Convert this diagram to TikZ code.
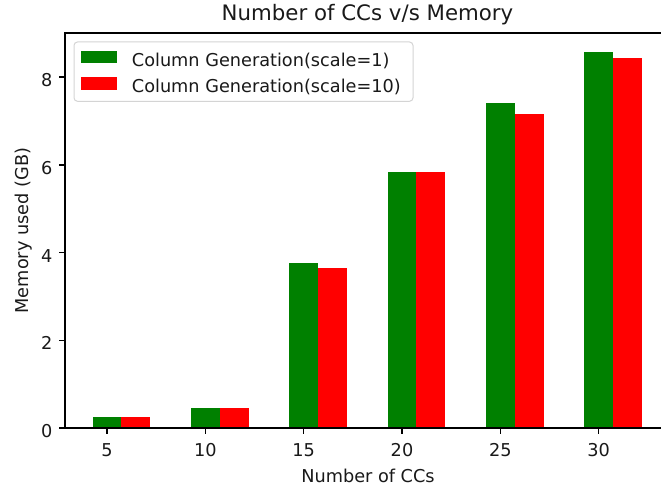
\documentclass[tikz,border=0pt]{standalone}
\usepackage{fontspec}
\setmainfont{DejaVu Sans}
\usepackage{xcolor}
\usetikzlibrary{positioning}

\definecolor{mplgreen}{HTML}{008000}
\definecolor{mplred}{HTML}{FF0000}

\begin{document}
\begin{tikzpicture}[
  x=1pt, y=1pt,
  font=\fontsize{17.7}{20}\selectfont,
  spine/.style={line width=1.4pt, black},
  tck/.style={line width=1.4pt, black},
  tlbl/.style={inner sep=0pt, text=black!90},
  gbar/.style={fill=mplgreen},
  rbar/.style={fill=mplred},
  legbox/.style={draw=black!17, line width=1pt, fill=white, rounded corners=3.5pt},
  ttl/.style={inner sep=0pt, text=black!90, font=\fontsize{21.3}{24}\selectfont}
]
\useasboundingbox (0,0) rectangle (661,489);
% bars, in data units (GB)
\begin{scope}[shift={(8.68,61)}, x=19.664pt, y=43.85pt]
  \fill[gbar] (4.265,0)  rectangle (5.735,0.26);
  \fill[rbar] (5.735,0)  rectangle (7.205,0.26);
  \fill[gbar] (9.265,0)  rectangle (10.735,0.455);
  \fill[rbar] (10.735,0) rectangle (12.205,0.455);
  \fill[gbar] (14.265,0) rectangle (15.735,3.77);
  \fill[rbar] (15.735,0) rectangle (17.205,3.64);
  \fill[gbar] (19.265,0) rectangle (20.735,5.84);
  \fill[rbar] (20.735,0) rectangle (22.205,5.84);
  \fill[gbar] (24.265,0) rectangle (25.735,7.41);
  \fill[rbar] (25.735,0) rectangle (27.205,7.17);
  \fill[gbar] (29.265,0) rectangle (30.735,8.565);
  \fill[rbar] (30.735,0) rectangle (32.205,8.44);
\end{scope}
% axes
\draw[spine] (661,455.8) -- (65.07,455.8) -- (65.07,61) -- (661,61);
\draw[tck] (107.0,61) -- ++(0,-6.2);
\draw[tck] (205.3,61) -- ++(0,-6.2);
\draw[tck] (303.6,61) -- ++(0,-6.2);
\draw[tck] (402.0,61) -- ++(0,-6.2);
\draw[tck] (500.3,61) -- ++(0,-6.2);
\draw[tck] (598.6,61) -- ++(0,-6.2);
\draw[tck] (65.07,61)    -- ++(-6.2,0);
\draw[tck] (65.07,148.7) -- ++(-6.2,0);
\draw[tck] (65.07,236.4) -- ++(-6.2,0);
\draw[tck] (65.07,324.1) -- ++(-6.2,0);
\draw[tck] (65.07,411.8) -- ++(-6.2,0);
\node[tlbl, anchor=base] (x5)  at (107.0,32.3) {5};
\node[tlbl, anchor=base] (x10) at (205.3,32.3) {10};
\node[tlbl, anchor=base] (x15) at (303.6,32.3) {15};
\node[tlbl, anchor=base] (x20) at (402.0,32.3) {20};
\node[tlbl, anchor=base] (x25) at (500.3,32.3) {25};
\node[tlbl, anchor=base] (x30) at (598.6,32.3) {30};
\node[tlbl, anchor=east] (y0) at (52.5,58)    {0};
\node[tlbl, anchor=east] (y2) at (52.5,145.7) {2};
\node[tlbl, anchor=east] (y4) at (52.5,233.4) {4};
\node[tlbl, anchor=east] (y6) at (52.5,321.1) {6};
\node[tlbl, anchor=east] (y8) at (52.5,408.8) {8};
\node[tlbl, anchor=base] (xlab) at (368,6.7) {Number of CCs};
\node[tlbl, anchor=base, rotate=90] (ylab) at (28.3,258.4) {Memory used (GB)};
\node[ttl, anchor=base] (title) at (367.5,468) {Number of CCs v/s Memory};
% legend
\draw[legbox] (74,387.7) rectangle (413,447);
\fill[gbar] (80.7,426.3) rectangle (116.7,438.3);
\fill[rbar] (80.7,399) rectangle (116.7,411.7);
\node[tlbl, anchor=base west] (leg1) at (131.7,422.3) {Column Generation(scale=1)};
\node[tlbl, anchor=base west] (leg2) at (131.7,396.3) {Column Generation(scale=10)};
\end{tikzpicture}
\end{document}
